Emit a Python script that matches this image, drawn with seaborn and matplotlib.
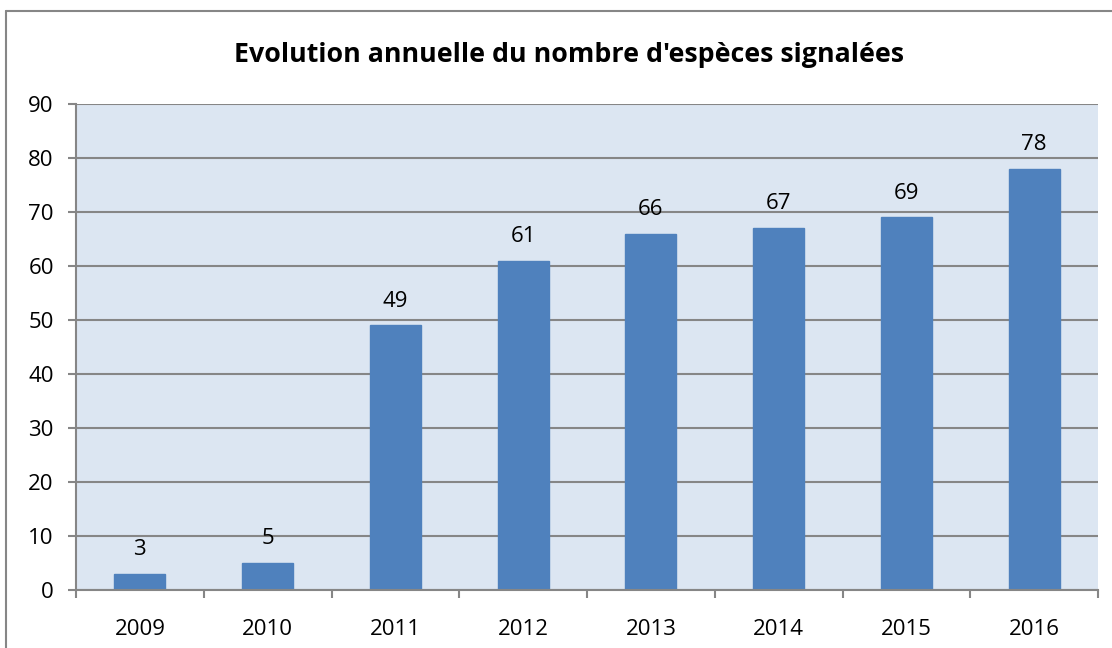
import matplotlib
matplotlib.use("Agg")
import matplotlib.pyplot as plt
from matplotlib.lines import Line2D
import seaborn as sns
import pandas as pd

years = ["2009", "2010", "2011", "2012", "2013", "2014", "2015", "2016"]
counts = [3, 5, 49, 61, 66, 67, 69, 78]
title = "Evolution annuelle du nombre d'espèces signalées"

sns.set_style("white")
plt.rcParams["font.family"] = ["Open Sans", "DejaVu Sans"]
plt.rcParams["text.color"] = "black"
plt.rcParams["xtick.color"] = "black"
plt.rcParams["ytick.color"] = "black"

W, H = 1112, 648
fig = plt.figure(figsize=(W / 100, H / 100), dpi=100)
x0, x1, ytop, ybot = 76, 1098, 104, 590
ax = fig.add_axes([x0 / W, 1 - ybot / H, (x1 - x0) / W, (ybot - ytop) / H])

df = pd.DataFrame({"year": years, "count": counts})
sns.barplot(data=df, x="year", y="count", order=years, color="#4f81bd",
            saturation=1, width=0.4, ax=ax, edgecolor="#4f81bd")

grid_c = "#868686"
ax.set_facecolor("#dce6f2")
ax.set_ylim(0, 90)
ax.set_xlim(-0.5, len(years) - 0.5)
ax.set_yticks(range(0, 91, 10))
ax.yaxis.grid(True, color=grid_c, linewidth=1.5)
ax.set_axisbelow(True)
for s in ["top", "right"]:
    ax.spines[s].set_visible(False)
for s in ["left", "bottom"]:
    ax.spines[s].set_color(grid_c)
    ax.spines[s].set_linewidth(1.5)

ax.set_xticks([i - 0.5 for i in range(len(years) + 1)])
ax.set_xticklabels([])
ax.set_xticks(range(len(years)), minor=True)
ax.set_xticklabels(years, minor=True)
ax.tick_params(axis="x", which="major", length=6, width=1.5, color=grid_c, direction="out", bottom=True)
ax.tick_params(axis="x", which="minor", length=0, labelsize=16, pad=21, labelcolor="black")
ax.tick_params(axis="y", length=6, width=1.5, color=grid_c, direction="out", left=True,
               labelsize=16, pad=10, labelcolor="black")
ax.set_xlabel("")
ax.set_ylabel("")

for i, v in enumerate(counts):
    ax.annotate(str(v), (i, v), xytext=(0, 10), textcoords="offset points",
                ha="center", va="bottom", fontsize=16, color="black")

fig.text(569 / W, 1 - 55 / H, title, ha="center", va="center",
         fontsize=19.3, fontweight="bold", color="black")

fig.add_artist(Line2D([6 / W, 6 / W], [0, 1 - 11 / H], transform=fig.transFigure, color=grid_c, lw=1.5))
fig.add_artist(Line2D([6 / W, 1], [1 - 11 / H, 1 - 11 / H], transform=fig.transFigure, color=grid_c, lw=1.5))

fig.savefig("out.png", dpi=100)
